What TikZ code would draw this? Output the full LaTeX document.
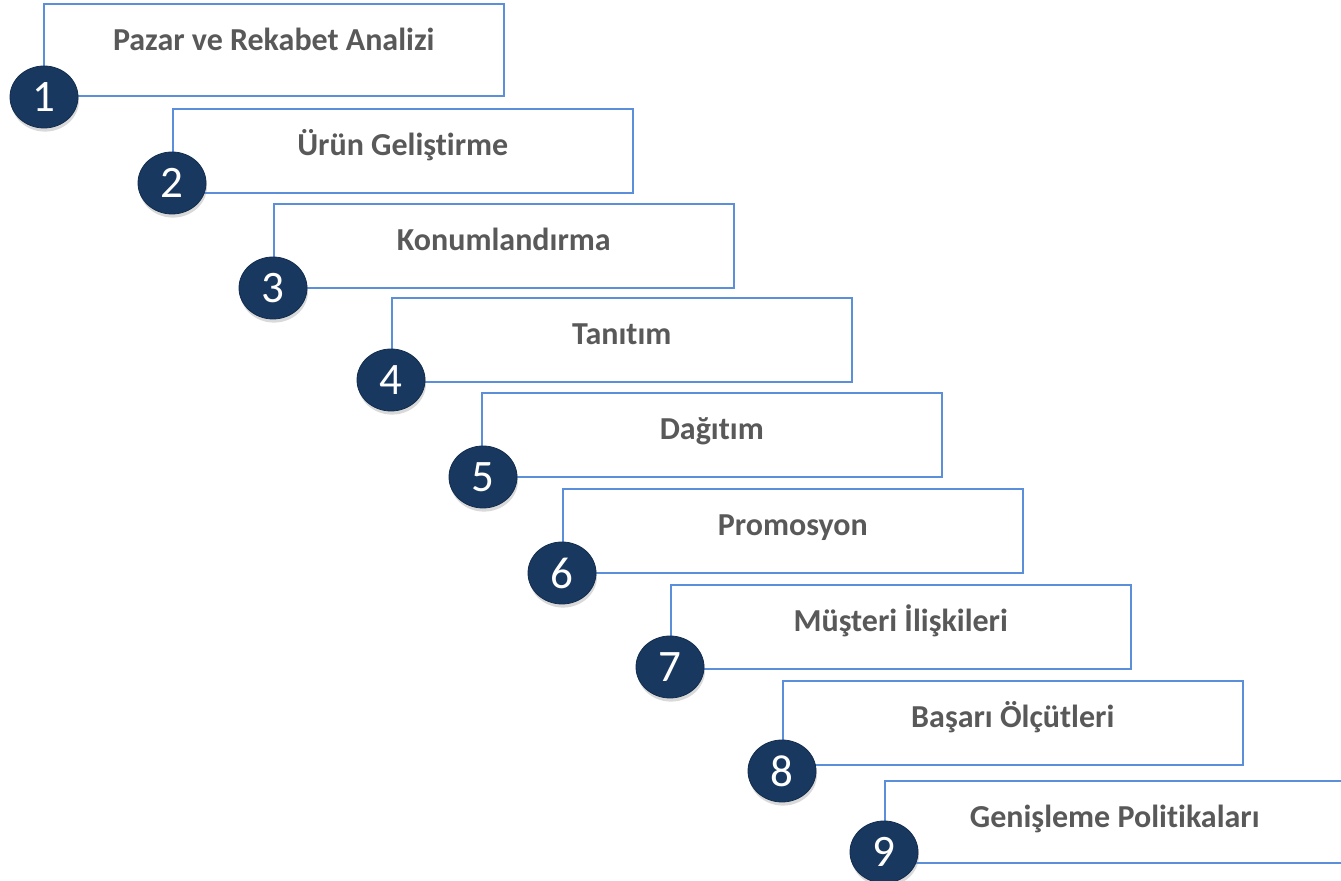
\documentclass[tikz,border=0pt]{standalone}
\usepackage{fontspec}
\setmainfont{Carlito}[Ligatures={NoCommon}]
\usepackage{tikz}
\usetikzlibrary{shapes.geometric,shadows}
\definecolor{kutu}{RGB}{91,143,217}
\definecolor{lacivert}{RGB}{24,56,96}
\definecolor{yazi}{RGB}{89,89,89}

\begin{document}
\begin{tikzpicture}[x=0.5pt,y=-0.5pt,
  adim/.style={draw=kutu,line width=0.8pt,fill=white,anchor=north west,inner sep=0pt,
    minimum width=230pt,minimum height=42pt,text height=23.5pt,text depth=18.5pt,
    font=\fontsize{16}{19}\selectfont\bfseries,text=yazi},
  numara/.style={ellipse,fill=lacivert,draw=lacivert!80!black,line width=0.4pt,
    minimum width=34pt,minimum height=31pt,inner sep=0pt,text=white,
    font=\fontsize{22.5}{26}\selectfont,
    drop shadow={opacity=0.3,shadow xshift=0.5pt,shadow yshift=-1.8pt}}]
\useasboundingbox (0,0) rectangle (1341,881);
% adimlar
\node[adim,minimum height=46pt,text depth=22.5pt] (a1) at (43,3) {Pazar ve Rekabet Analizi};
\node[adim] (a2) at (172,108) {Ürün Geliştirme};
\node[adim] (a3) at (273,203) {Konumlandırma};
\node[adim] (a4) at (391,297) {Tanıtım};
\node[adim] (a5) at (481,392) {Dağıtım};
\node[adim] (a6) at (562,488) {Promosyon};
\node[adim] (a7) at (670,584) {Müşteri İlişkileri};
\node[adim] (a8) at (782,680) {Başarı Ölçütleri};
\node[adim,minimum height=41pt,text depth=17.5pt] (a9) at (884,780) {Genişleme Politikaları};
% numaralar
\node[numara] (n1) at (44,97) {1};
\node[numara] (n2) at (172,183) {2};
\node[numara] (n3) at (273,288) {3};
\node[numara] (n4) at (391,380) {4};
\node[numara] (n5) at (483,477) {5};
\node[numara] (n6) at (562,573) {6};
\node[numara] (n7) at (670,667) {7};
\node[numara] (n8) at (782,771) {8};
\node[numara] (n9) at (884,852) {9};
\end{tikzpicture}
\end{document}
